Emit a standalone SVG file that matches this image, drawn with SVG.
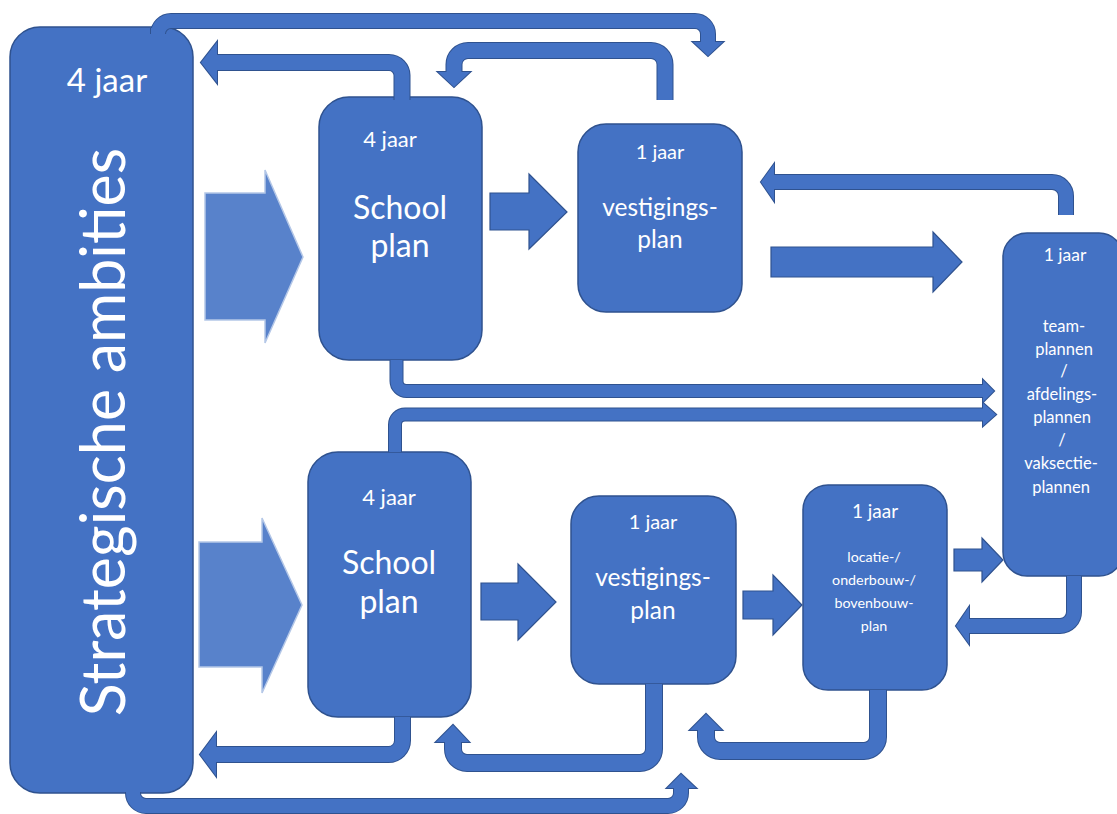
<svg xmlns="http://www.w3.org/2000/svg" xmlns:xlink="http://www.w3.org/1999/xlink" width="1117" height="814" viewBox="0 0 1117 814">
<style>
.node{fill:#4472C4;stroke:#2F528F;stroke-width:1.5}
.t{fill:#fff;font-family:Lato,"Open Sans",sans-serif;text-anchor:middle}
.blk{fill:#4472C4;stroke:#2F528F;stroke-width:1.2;stroke-linejoin:miter}
.lt{fill:#5882CB;stroke:#B4C7E7;stroke-width:1.5}
.o{fill:none;stroke:#2F528F}
.i{fill:none;stroke:#4472C4}
.o.w12{stroke-width:14}.i.w12{stroke-width:12}
.o.w14{stroke-width:16}.i.w14{stroke-width:14}
.o.w15{stroke-width:17}.i.w15{stroke-width:15}
.o.w16{stroke-width:18}.i.w16{stroke-width:16}
.ho{fill:#2F528F;stroke:#2F528F;stroke-width:2;stroke-linejoin:miter}
.hi{fill:#4472C4}
</style>
<defs>
<path id="pA" d="M158,28 V34 A13,13 0 0 1 171,21 H695 A13,13 0 0 1 708,34 V44"/>
<polygon id="hA" points="693,42 723,42 708,56"/>
<path id="pB" d="M402,100 V76 A13,13 0 0 0 389,62.5 H215"/>
<polygon id="hB" points="217,42 217,83 201,62.5"/>
<path id="pC" d="M665,100 V64.5 A14,14 0 0 0 651,50.5 H468 A14,14 0 0 0 454,64.5 V74"/>
<polygon id="hC" points="438,72 470,72 454,87"/>
<path id="pD" d="M1066,215 V196 A14,14 0 0 0 1052,182 H772"/>
<polygon id="hD" points="774,164 774,201 761,182"/>
<path id="pE" d="M396.5,360 V381 A10,10 0 0 0 406.5,391 H985"/>
<polygon id="hE" points="983,380 983,402 994,391"/>
<path id="pF" d="M395,452 V424.5 A10,10 0 0 1 405,414.5 H985"/>
<polygon id="hF" points="983,403 983,426 996,414.5"/>
<path id="pG" d="M1074,576 V612 A14,14 0 0 1 1060,626 H967"/>
<polygon id="hG" points="969,607 969,644 956,626"/>
<path id="pH" d="M878,690 V737 A14,14 0 0 1 864,751 H720 A14,14 0 0 1 706,737 V728"/>
<polygon id="hH" points="690,730 722,730 706,714"/>
<path id="pI" d="M654,684 V749 A14,14 0 0 1 640,763 H467 A14,14 0 0 1 453,749 V740"/>
<polygon id="hI" points="436,742 469,742 453,725"/>
<path id="pJ" d="M402.5,717 V740.5 A14,14 0 0 1 388.5,754.5 H214"/>
<polygon id="hJ" points="216,733 216,776 200,754.5"/>
<path id="pK" d="M133,792 V793 A13,13 0 0 0 146,806 H668 A13,13 0 0 0 681,793 V786"/>
<polygon id="hK" points="667,788 696,788 681,774"/>
</defs>

<g id="n-strategische">
<rect class="node" x="10" y="27" width="183" height="766" rx="30"/>
<text class="t" x="107" y="92" font-size="33">4 jaar</text>
<text class="t" font-size="61" transform="translate(125,432) rotate(-90)">Strategische ambities</text>
</g>
<g id="n-schoolplan-1">
<rect class="node" x="319" y="97" width="163" height="263" rx="30"/>
<text class="t" x="390" y="147" font-size="22">4 jaar</text>
<text class="t" x="400" y="219" font-size="32">School</text>
<text class="t" x="400" y="257" font-size="32">plan</text>
</g>
<g id="n-vestigingsplan-1">
<rect class="node" x="578" y="124" width="164" height="188" rx="28"/>
<text class="t" x="660" y="159" font-size="20">1 jaar</text>
<text class="t" x="660" y="216" font-size="24.5">vestigings-</text>
<text class="t" x="660" y="248" font-size="24.5">plan</text>
</g>
<g id="n-teamplannen">
<rect class="node" x="1003" y="233" width="120" height="343" rx="24"/>
<text class="t" x="1065" y="261" font-size="17.5">1 jaar</text>
<text class="t" x="1064" y="332" font-size="16.5">team-</text>
<text class="t" x="1064" y="355" font-size="16.5">plannen</text>
<text class="t" x="1064" y="377" font-size="16.5">/</text>
<text class="t" x="1062" y="400" font-size="16.5">afdelings-</text>
<text class="t" x="1062" y="423" font-size="16.5">plannen</text>
<text class="t" x="1062" y="446" font-size="16.5">/</text>
<text class="t" x="1061" y="469" font-size="16.5">vaksectie-</text>
<text class="t" x="1061" y="493" font-size="16.5">plannen</text>
</g>
<g id="n-schoolplan-2">
<rect class="node" x="308" y="452" width="163" height="265" rx="30"/>
<text class="t" x="389" y="505" font-size="22">4 jaar</text>
<text class="t" x="389" y="574" font-size="32">School</text>
<text class="t" x="389" y="613" font-size="32">plan</text>
</g>
<g id="n-vestigingsplan-2">
<rect class="node" x="571" y="496" width="165" height="188" rx="28"/>
<text class="t" x="653" y="529" font-size="20">1 jaar</text>
<text class="t" x="653" y="586" font-size="24.5">vestigings-</text>
<text class="t" x="653" y="619" font-size="24.5">plan</text>
</g>
<g id="n-locatieplan">
<rect class="node" x="803" y="485" width="144" height="205" rx="25"/>
<text class="t" x="875" y="518" font-size="19">1 jaar</text>
<text class="t" x="874" y="562" font-size="14.3">locatie-/</text>
<text class="t" x="874" y="585" font-size="14.3">onderbouw-/</text>
<text class="t" x="874" y="608" font-size="14.3">bovenbouw-</text>
<text class="t" x="874" y="631" font-size="14.3">plan</text>
</g>

<g id="connectors">
<polygon class="lt" points="205,193 265,193 265,170 303,257 265,343 265,320 205,320"/>
<polygon class="lt" points="199,542 262,542 262,518 302,605 262,693 262,667 199,667"/>
<polygon class="blk" points="490,193 529,193 529,174 567,212 529,249 529,230 490,230"/>
<polygon class="blk" points="771,247 933,247 933,232 962,262 933,292 933,277 771,277"/>
<polygon class="blk" points="481,583 518,583 518,564 556,602 518,640 518,620 481,620"/>
<polygon class="blk" points="743,591 773,591 773,575 802,605 773,635 773,619 743,619"/>
<polygon class="blk" points="954,549 982,549 982,538 1003,560 982,582 982,571 954,571"/>

<g id="c-A"><use xlink:href="#pA" class="o w14"/><use xlink:href="#hA" class="ho"/><use xlink:href="#pA" class="i w14"/><use xlink:href="#hA" class="hi"/></g>
<g id="c-B"><use xlink:href="#pB" class="o w15"/><use xlink:href="#hB" class="ho"/><use xlink:href="#pB" class="i w15"/><use xlink:href="#hB" class="hi"/></g>
<g id="c-C"><use xlink:href="#pC" class="o w15"/><use xlink:href="#hC" class="ho"/><use xlink:href="#pC" class="i w15"/><use xlink:href="#hC" class="hi"/></g>
<g id="c-D"><use xlink:href="#pD" class="o w14"/><use xlink:href="#hD" class="ho"/><use xlink:href="#pD" class="i w14"/><use xlink:href="#hD" class="hi"/></g>
<g id="c-E"><use xlink:href="#pE" class="o w12"/><use xlink:href="#hE" class="ho"/><use xlink:href="#pE" class="i w12"/><use xlink:href="#hE" class="hi"/></g>
<g id="c-F"><use xlink:href="#pF" class="o w12"/><use xlink:href="#hF" class="ho"/><use xlink:href="#pF" class="i w12"/><use xlink:href="#hF" class="hi"/></g>
<g id="c-G"><use xlink:href="#pG" class="o w14"/><use xlink:href="#hG" class="ho"/><use xlink:href="#pG" class="i w14"/><use xlink:href="#hG" class="hi"/></g>
<g id="c-H"><use xlink:href="#pH" class="o w16"/><use xlink:href="#hH" class="ho"/><use xlink:href="#pH" class="i w16"/><use xlink:href="#hH" class="hi"/></g>
<g id="c-I"><use xlink:href="#pI" class="o w16"/><use xlink:href="#hI" class="ho"/><use xlink:href="#pI" class="i w16"/><use xlink:href="#hI" class="hi"/></g>
<g id="c-J"><use xlink:href="#pJ" class="o w15"/><use xlink:href="#hJ" class="ho"/><use xlink:href="#pJ" class="i w15"/><use xlink:href="#hJ" class="hi"/></g>
<g id="c-K"><use xlink:href="#pK" class="o w14"/><use xlink:href="#hK" class="ho"/><use xlink:href="#pK" class="i w14"/><use xlink:href="#hK" class="hi"/></g>
</g>
</svg>
